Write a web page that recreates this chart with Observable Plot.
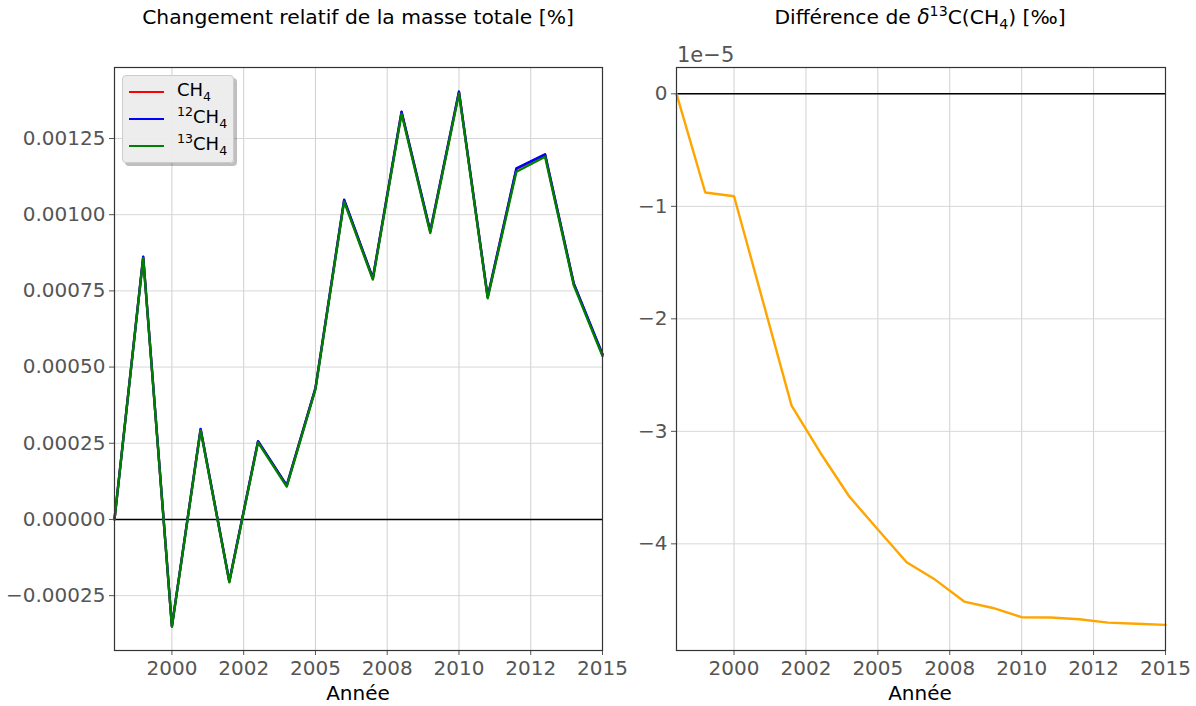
<!DOCTYPE html>
<html>
<head>
<meta charset="utf-8">
<script src="https://cdn.jsdelivr.net/npm/d3@7"></script>
<script src="https://cdn.jsdelivr.net/npm/@observablehq/plot@0.6"></script>
<style>
  html, body { margin: 0; padding: 0; background: #fff; }
  body { width: 1196px; height: 706px; position: relative; overflow: hidden; font-family: "DejaVu Sans", sans-serif; }
  .panel { position: absolute; top: 0; }
  .title { position: absolute; top: 5px; font-size: 20.3px; color: #000; white-space: nowrap; transform: translateX(-50%); }
  .xlabel { position: absolute; top: 681px; font-size: 20px; color: #000; transform: translateX(-50%); }
  .offset { position: absolute; top: 43px; left: 677px; font-size: 21px; color: #555; }
  .legend { position: absolute; left: 122px; top: 75px; width: 110px; height: 86px; background: rgba(236,236,236,0.95);
            border: 1px solid #ccc; border-radius: 4px; box-shadow: 3px 3px 0 rgba(0,0,0,0.25); font-size: 18px; }
  .legend .row { position: absolute; left: 6px; height: 20px; }
  .legend .sw { position: absolute; left: 0; top: 9px; width: 35px; height: 0; border-top: 2.5px solid; }
  .legend .lab { position: absolute; left: 48px; top: -3px; white-space: nowrap; color: #000; }
  sup, sub { font-size: 70%; line-height: 0; }
</style>
</head>
<body>
<div id="left" class="panel" style="left:0"></div>
<div id="right" class="panel" style="left:620px"></div>
<div class="title" style="left:358px">Changement relatif de la masse totale [%]</div>
<div class="title" style="left:920px">Différence de <i>δ</i><sup>13</sup>C(CH<sub>4</sub>) [‰]</div>
<div class="xlabel" style="left:358px">Année</div>
<div class="xlabel" style="left:920px">Année</div>
<div class="offset">1e−5</div>
<div class="legend">
  <div class="row" style="top:6px"><div class="sw" style="border-color:red"></div><div class="lab">CH<sub>4</sub></div></div>
  <div class="row" style="top:33px"><div class="sw" style="border-color:blue"></div><div class="lab"><sup>12</sup>CH<sub>4</sub></div></div>
  <div class="row" style="top:60px"><div class="sw" style="border-color:green"></div><div class="lab"><sup>13</sup>CH<sub>4</sub></div></div>
</div>
<script>
// ---- data ----
const years = [1998,1999,2000,2001,2002,2003,2004,2005,2006,2007,2008,2009,2010,2011,2012,2013,2014,2015];
const massCH4 = [0, 0.000861, -0.000351, 0.000296, -0.000204, 0.000256, 0.000111, 0.000430, 0.001048, 0.000791, 0.001337, 0.000945, 0.001403, 0.000730, 0.001150, 0.001197, 0.000773, 0.000541];
const mass12CH4 = [0, 0.000862, -0.000350, 0.000297, -0.000203, 0.000257, 0.000112, 0.000431, 0.001049, 0.000792, 0.001338, 0.000946, 0.001404, 0.000731, 0.001152, 0.001198, 0.000774, 0.000542];
const mass13CH4 = [0, 0.000858, -0.000352, 0.000293, -0.000206, 0.000253, 0.000108, 0.000427, 0.001043, 0.000787, 0.001331, 0.000940, 0.001398, 0.000726, 0.001141, 0.001190, 0.000768, 0.000536];
const deltaD13C = [0, -0.877e-5, -0.910e-5, -1.84e-5, -2.771e-5, -3.19e-5, -3.577e-5, -3.873e-5, -4.163e-5, -4.32e-5, -4.513e-5, -4.57e-5, -4.652e-5, -4.655e-5, -4.67e-5, -4.70e-5, -4.71e-5, -4.72e-5];
const seriesNames = ["CH4", "12CH4", "13CH4"];
const seriesColors = ["red", "blue", "green"];
const xTickValues = [2000, 2002.5, 2005, 2007.5, 2010, 2012.5, 2015];
const xTickLabels = ["2000", "2002", "2005", "2008", "2010", "2012", "2015"];
const yTicksLeft = [-0.00025, 0, 0.00025, 0.0005, 0.00075, 0.001, 0.00125];
const yTicksRight = [-4e-5, -3e-5, -2e-5, -1e-5, 0];

const seriesValues = [massCH4, mass12CH4, mass13CH4];
const massRows = seriesNames.flatMap((s, i) => years.map((y, j) => ({series: s, year: y, value: seriesValues[i][j]})));
const deltaRows = years.map((y, j) => ({year: y, value: deltaD13C[j]}));

const fmtX = d => xTickLabels[xTickValues.indexOf(d)];
const fmtYL = d => d === 0 ? "0.00000" : (d < 0 ? "−" : "") + Math.abs(d).toFixed(5);
const fmtYR = d => { const v = Math.round(d * 1e5); return v < 0 ? "−" + Math.abs(v) : String(v); };

const common = {
  height: 706, marginTop: 67, marginBottom: 56,
  style: {fontFamily: "DejaVu Sans, sans-serif", fontSize: "20px", background: "transparent", overflow: "visible"},
};
const axisStyle = {color: "#555", tickSize: 5, tickPadding: 4, label: null, fontSize: 20};

const left = Plot.plot({
  ...common,
  width: 620, marginLeft: 114, marginRight: 18,
  x: {domain: [1998, 2015]},
  y: {domain: [-0.00043, 0.001483]},
  marks: [
    Plot.gridX(xTickValues, {stroke: "#d0d0d0", strokeOpacity: 1}),
    Plot.gridY(yTicksLeft, {stroke: "#d8d8d8", strokeOpacity: 1}),
    Plot.ruleY([0], {stroke: "black", strokeWidth: 1.5}),
    ...seriesNames.map((s, i) => Plot.line(massRows.filter(d => d.series === s), {x: "year", y: "value", stroke: seriesColors[i], strokeWidth: 2.4})),
    Plot.axisX(xTickValues, {...axisStyle, tickFormat: fmtX, tickPadding: 5}),
    Plot.axisY(yTicksLeft, {...axisStyle, tickFormat: fmtYL}),
    Plot.frame({stroke: "#333", strokeWidth: 1.2})
  ]
});
document.getElementById("left").appendChild(left);

const right = Plot.plot({
  ...common,
  width: 576, marginLeft: 56, marginRight: 31,
  x: {domain: [1998, 2015]},
  y: {domain: [-4.948e-5, 0.234e-5]},
  marks: [
    Plot.gridX(xTickValues, {stroke: "#d0d0d0", strokeOpacity: 1}),
    Plot.gridY(yTicksRight, {stroke: "#d8d8d8", strokeOpacity: 1}),
    Plot.ruleY([0], {stroke: "black", strokeWidth: 1.5}),
    Plot.line(deltaRows, {x: "year", y: "value", stroke: "orange", strokeWidth: 2.4}),
    Plot.axisX(xTickValues, {...axisStyle, tickFormat: fmtX, tickPadding: 5}),
    Plot.axisY(yTicksRight, {...axisStyle, tickFormat: fmtYR}),
    Plot.frame({stroke: "#333", strokeWidth: 1.2})
  ]
});
document.getElementById("right").appendChild(right);
</script>
</body>
</html>
